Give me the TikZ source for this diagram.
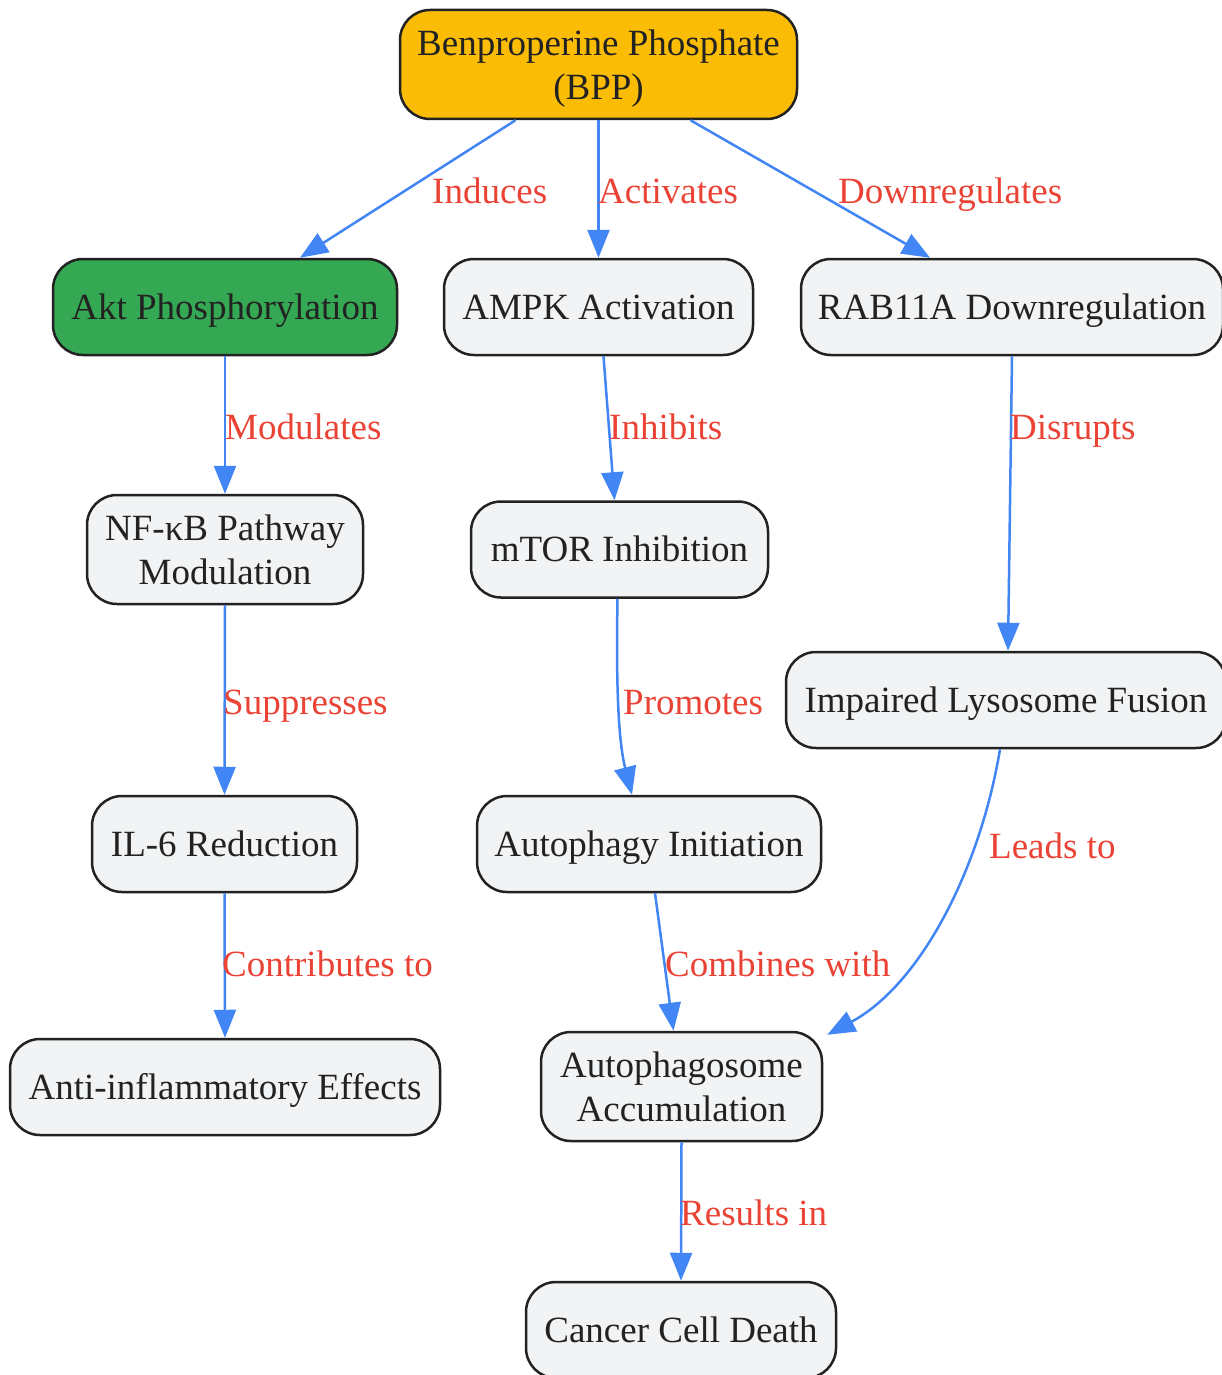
\documentclass[tikz,border=0pt]{standalone}
\usepackage{fontspec}
\setmainfont{Liberation Serif}
\usetikzlibrary{arrows.meta,calc}
\definecolor{edgeblue}{HTML}{4285F4}
\definecolor{lblred}{HTML}{EA4335}
\definecolor{boxgray}{HTML}{F1F3F4}
\definecolor{amber}{HTML}{FBBC05}
\definecolor{gggreen}{HTML}{34A853}
\definecolor{ink}{HTML}{222222}
\begin{document}
\begin{tikzpicture}[x=1pt,y=-1pt,
 box/.style={draw=ink, line width=2.5pt, fill=boxgray, rounded corners=30pt, inner sep=0pt, text=ink, font=\fontsize{37}{44}\selectfont, align=center},
 one/.style={minimum height=96pt, text height=24.4pt, text depth=0pt},
 two/.style={minimum height=109pt, text depth=0pt},
 lbl/.style={text=lblred, font=\fontsize{37}{44}\selectfont, anchor=west, inner sep=0pt, text height=24.4pt, text depth=0pt},
 conn/.style={draw=edgeblue, line width=2.5pt, -{Triangle[length=28pt,width=22pt]}}
]
\useasboundingbox (0,0) rectangle (1222,1375);
\clip (0,0) rectangle (1222,1375);

\node[box,two,fill=amber,minimum width=397pt] (bpp) at (598.5,64.5) {Benproperine Phosphate\\(BPP)};
\node[box,one,fill=gggreen,minimum width=344pt] (akt) at (225,307) {Akt Phosphorylation};
\node[box,one,minimum width=309pt] (ampk) at (598.5,307) {AMPK Activation};
\node[box,one,minimum width=422pt] (rab) at (1012,307) {RAB11A Downregulation};
\node[box,two,minimum width=276pt] (nfkb) at (225,549.5) {NF-κB Pathway\\Modulation};
\node[box,one,minimum width=297pt] (mtor) at (619.5,549.5) {mTOR Inhibition};
\node[box,one,minimum width=440pt] (imp) at (1006,700) {Impaired Lysosome Fusion};
\node[box,one,minimum width=265pt] (il6) at (224.5,844) {IL-6 Reduction};
\node[box,one,minimum width=344pt] (auto) at (649,844) {Autophagy Initiation};
\node[box,one,minimum width=430pt] (anti) at (225,1087) {Anti-inflammatory Effects};
\node[box,two,minimum width=281pt] (aphs) at (681.5,1086.5) {Autophagosome\\Accumulation};
\node[box,one,minimum width=310pt] (death) at (681,1330) {Cancer Cell Death};

\draw[conn] ([xshift=-83pt]bpp.south) -- ([xshift=75pt]akt.north);
\draw[conn] (bpp.south) -- (ampk.north);
\draw[conn] ([xshift=92pt]bpp.south) -- ([xshift=-82pt]rab.north);
\draw[conn] (akt.south) -- (nfkb.north);
\draw[conn] ([xshift=5pt]ampk.south) -- ([xshift=-5pt]mtor.north);
\draw[conn] (rab.south) -- ([xshift=2pt]imp.north);
\draw[conn] (nfkb.south) -- (il6.north);
\draw[conn] ([xshift=-2pt]mtor.south) .. controls (616,680) and (618,740) .. ([xshift=-17pt]auto.north);
\draw[conn] (il6.south) -- (anti.north);
\draw[conn] ([xshift=6pt]auto.south) -- ([xshift=-8pt]aphs.north);
\draw[conn] ([xshift=-6pt]imp.south) .. controls (980,870) and (920,985) .. ($(aphs.north east)+(4,4)$);
\draw[conn] (aphs.south) -- (death.north);

\node[lbl] (l1) at (432,191) {Induces};
\node[lbl] (l2) at (598,191) {Activates};
\node[lbl] (l3) at (838,191) {Downregulates};
\node[lbl] (l4) at (225,427) {Modulates};
\node[lbl] (l5) at (609,427) {Inhibits};
\node[lbl] (l6) at (1010,427) {Disrupts};
\node[lbl] (l7) at (223,702) {Suppresses};
\node[lbl] (l8) at (623,702) {Promotes};
\node[lbl] (l9) at (222,964) {Contributes to};
\node[lbl] (l10) at (665,964) {Combines with};
\node[lbl] (l11) at (989,846) {Leads to};
\node[lbl] (l12) at (680,1213) {Results in};
\end{tikzpicture}
\end{document}
